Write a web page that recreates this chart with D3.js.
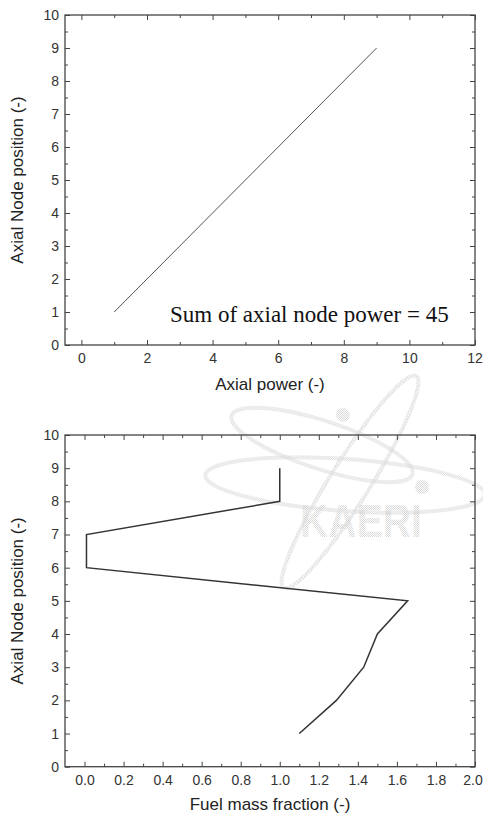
<!DOCTYPE html>
<html>
<head>
<meta charset="utf-8">
<script src="https://cdn.jsdelivr.net/npm/d3@7"></script>
<style>
  html, body { margin: 0; padding: 0; background: #fff; }
  svg { display: block; }
  .tick text { font-family: "Liberation Sans", Arial, sans-serif; font-size: 14px; fill: #333; }
  .tick line { stroke: #444; stroke-width: 1; }
  .domain { display: none; }
</style>
</head>
<body>
<svg id="chart" width="483" height="817"></svg>
<script>
// ---- Top chart data ----
const powerNodes = [1, 2, 3, 4, 5, 6, 7, 8, 9];
const powerValues = [1, 2, 3, 4, 5, 6, 7, 8, 9];
const powerXTicks = [0, 2, 4, 6, 8, 10, 12];
const powerXMinor = [1, 3, 5, 7, 9, 11];
const powerXDomain = [-0.5, 12];
const powerNote = "Sum of axial node power = 45";

// ---- Bottom chart data ----
const fuelNodes = [9, 8, 7, 6, 5, 4, 3, 2, 1];
const fuelValues = [1.0, 1.0, 0.01, 0.01, 1.655, 1.5, 1.43, 1.29, 1.1];
const fuelXTicks = [0.0, 0.2, 0.4, 0.6, 0.8, 1.0, 1.2, 1.4, 1.6, 1.8, 2.0];
const fuelXMinor = [0.1, 0.3, 0.5, 0.7, 0.9, 1.1, 1.3, 1.5, 1.7, 1.9];
const fuelXDomain = [-0.1, 2.0];

// ---- shared y axis ----
const yTicks = [0, 1, 2, 3, 4, 5, 6, 7, 8, 9, 10];
const yMinor = [0.5, 1.5, 2.5, 3.5, 4.5, 5.5, 6.5, 7.5, 8.5, 9.5];
const yDomain = [0, 10];
const yTitle = "Axial Node position (-)";

const svg = d3.select("#chart");
const W = 483;

// Watermark pattern
const defs = svg.append("defs");
const pat = defs.append("pattern").attr("id", "dots")
  .attr("width", 2).attr("height", 2).attr("patternUnits", "userSpaceOnUse");
pat.append("rect").attr("x", 0).attr("y", 0).attr("width", 1).attr("height", 1).attr("fill", "#d9d9d9");
pat.append("rect").attr("x", 1).attr("y", 1).attr("width", 1).attr("height", 1).attr("fill", "#d9d9d9");

function drawPanel(opts) {
  const { left, right, top, bottom, xDomain, xTicks, xMinor, xFmt, xTitle, xTitleY, xs, ys, lineColor, lineWidth } = opts;
  const g = svg.append("g");
  const x = d3.scaleLinear().domain(xDomain).range([left, right]);
  const y = d3.scaleLinear().domain(yDomain).range([bottom, top]);

  if (opts.watermark) opts.watermark(g);

  const xb = g.append("g").attr("transform", `translate(0,${bottom})`)
    .call(d3.axisBottom(x).tickValues(xTicks).tickSize(-5).tickSizeOuter(0).tickPadding(8).tickFormat(xFmt));
  // keep the last label inside the page
  xb.selectAll(".tick text").each(function () {
    const bb = this.getBBox();
    const px = x(d3.select(this.parentNode).datum());
    const over = px + bb.x + bb.width - (W - 0.5);
    if (over > 0) d3.select(this).attr("dx", -over);
  });
  g.append("g").attr("transform", `translate(0,${bottom})`)
    .call(d3.axisBottom(x).tickValues(xMinor).tickSize(-3).tickSizeOuter(0).tickFormat(""));
  g.append("g").attr("transform", `translate(0,${top})`)
    .call(d3.axisTop(x).tickValues(xTicks).tickSize(-5).tickSizeOuter(0).tickFormat(""));
  g.append("g").attr("transform", `translate(0,${top})`)
    .call(d3.axisTop(x).tickValues(xMinor).tickSize(-3).tickSizeOuter(0).tickFormat(""));
  g.append("g").attr("transform", `translate(${left},0)`)
    .call(d3.axisLeft(y).tickValues(yTicks).tickSize(-5).tickSizeOuter(0).tickPadding(6).tickFormat(d3.format("d")));
  g.append("g").attr("transform", `translate(${left},0)`)
    .call(d3.axisLeft(y).tickValues(yMinor).tickSize(-3).tickSizeOuter(0).tickFormat(""));
  g.append("g").attr("transform", `translate(${right},0)`)
    .call(d3.axisRight(y).tickValues(yTicks).tickSize(-5).tickSizeOuter(0).tickFormat(""));
  g.append("g").attr("transform", `translate(${right},0)`)
    .call(d3.axisRight(y).tickValues(yMinor).tickSize(-3).tickSizeOuter(0).tickFormat(""));

  g.append("rect").attr("x", left).attr("y", top)
    .attr("width", right - left).attr("height", bottom - top)
    .attr("fill", "none").attr("stroke", "#444").attr("stroke-width", 1.3);

  const pts = xs.map((v, i) => [v, ys[i]]);
  g.append("path").datum(pts)
    .attr("fill", "none").attr("stroke", lineColor).attr("stroke-width", lineWidth)
    .attr("stroke-linejoin", "miter")
    .attr("d", d3.line().x(d => x(d[0])).y(d => y(d[1])));

  g.append("text").attr("x", (left + right) / 2).attr("y", xTitleY)
    .attr("text-anchor", "middle")
    .attr("font-family", "'Liberation Sans', Arial, sans-serif").attr("font-size", 17).attr("fill", "#222")
    .text(xTitle);
  g.append("text")
    .attr("transform", `translate(23,${(top + bottom) / 2}) rotate(-90)`)
    .attr("text-anchor", "middle")
    .attr("font-family", "'Liberation Sans', Arial, sans-serif").attr("font-size", 17).attr("fill", "#222")
    .text(yTitle);

  return { g, x, y };
}

const topPanel = drawPanel({
  left: 65, right: 475, top: 15, bottom: 345,
  xDomain: powerXDomain, xTicks: powerXTicks, xMinor: powerXMinor,
  xFmt: d3.format("d"), xTitle: "Axial power (-)", xTitleY: 390,
  xs: powerValues, ys: powerNodes, lineColor: "#555", lineWidth: 1
});
topPanel.g.append("text")
  .attr("x", topPanel.x(2.7)).attr("y", topPanel.y(0.7))
  .attr("font-family", "'Liberation Serif', 'Times New Roman', serif")
  .attr("font-size", 23).attr("fill", "#111")
  .text(powerNote);

drawPanel({
  left: 65, right: 475, top: 435, bottom: 766.7,
  xDomain: fuelXDomain, xTicks: fuelXTicks, xMinor: fuelXMinor,
  xFmt: d3.format(".1f"), xTitle: "Fuel mass fraction (-)", xTitleY: 810,
  xs: fuelValues, ys: fuelNodes, lineColor: "#333", lineWidth: 1.5,
  watermark: (g) => {
    const w = g.append("g").attr("class", "watermark");
    const orbits = [
      { cx: 345, cy: 485, rx: 140, ry: 26, rot: 4 },
      { cx: 322, cy: 445, rx: 95, ry: 24, rot: 18 },
      { cx: 350, cy: 482, rx: 125, ry: 20, rot: -58 }
    ];
    orbits.forEach(o => {
      w.append("ellipse").attr("cx", 0).attr("cy", 0).attr("rx", o.rx).attr("ry", o.ry)
        .attr("transform", `translate(${o.cx},${o.cy}) rotate(${o.rot})`)
        .attr("fill", "none").attr("stroke", "url(#dots)").attr("stroke-width", 4);
    });
    [[343, 415], [422, 487]].forEach(c => {
      w.append("circle").attr("cx", c[0]).attr("cy", c[1]).attr("r", 7).attr("fill", "url(#dots)");
    });
    w.append("text").attr("x", 300).attr("y", 537)
      .attr("font-family", "'Liberation Sans', Arial, sans-serif").attr("font-weight", "bold")
      .attr("font-size", 46).attr("textLength", 122).attr("lengthAdjust", "spacingAndGlyphs")
      .attr("fill", "url(#dots)").text("KAERI");
  }
});
</script>
</body>
</html>
